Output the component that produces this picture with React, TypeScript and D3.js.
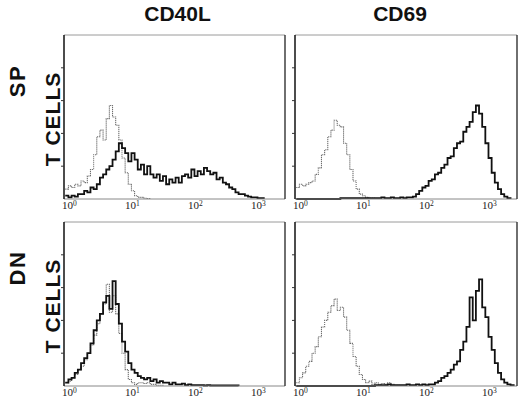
import React from "react";
import * as d3 from "d3";

const width = 520;
const height = 397;

// channel positions in decades (log10 of fluorescence), one per bin
const channels = d3.range(71).map((i) => -0.05 + i * 0.05);
const decadeTicks = [0, 1, 2, 3];
const colTitles = ["CD40L", "CD69"];
const rowTitles = [
  ["SP", "T CELLS"],
  ["DN", "T CELLS"],
];

// % of panel height
const spCd40lCtrl = [6, 8, 7, 9, 8, 11, 10, 14, 18, 27, 38, 42, 36, 49, 57, 50, 45, 36, 25, 16, 9, 5, 2, 1, 1, 0.5, 0.3, 0];
const spCd40lStain = [2, 1, 2, 1.5, 3, 3, 5, 4, 7, 6, 9, 13, 15, 18, 20, 24, 29, 34, 31, 28, 23, 28, 24, 18, 21, 15, 20, 15, 13, 15, 11, 14, 9, 12, 10, 13, 10, 14, 15, 13, 18, 14, 17, 15, 19, 17, 15, 16, 12, 13, 10, 9, 7, 6, 4, 3, 3, 2, 1.5, 1, 1, 0.5, 0.5, 0];
const spCd69Ctrl = [7, 9, 8, 9, 10, 11, 15, 19, 27, 30, 38, 42, 48, 45, 44, 34, 27, 18, 11, 6, 3, 2, 1, 0.5, 0.5, 0];
const spCd69Stain = [0, 0, 0, 0, 0, 0, 0, 0, 0, 0, 0, 0, 0, 0, 0.5, 0.5, 0.5, 0.5, 0.5, 0.5, 0.5, 0.5, 0.5, 0.5, 0.5, 0.5, 0.5, 1, 0.5, 0.5, 1, 0.5, 0.5, 1, 0.5, 1, 1, 1.5, 3, 5, 7, 8, 11, 12, 15, 16, 19, 21, 25, 26, 31, 34, 35, 41, 44, 47, 53, 57, 52, 44, 34, 25, 16, 10, 6, 3, 1.5, 0.5, 0];
const dnCd40lCtrl = [2, 3, 5, 7, 10, 12, 16, 20, 25, 31, 38, 44, 50, 62, 45, 55, 44, 32, 20, 10, 4, 2, 1, 2, 2, 1.5, 2, 1, 1, 0.5, 0.5, 0];
const dnCd40lStain = [2, 4, 5, 8, 10, 14, 17, 20, 26, 34, 40, 44, 51, 55, 47, 64, 50, 38, 27, 21, 14, 10, 8, 6, 5, 4, 5, 3, 4, 2, 3, 2, 2, 1, 2, 1, 1, 1.5, 0.5, 1, 0.5, 0.5, 0.5, 0.5, 0.3, 0.5, 0.3, 0.3, 0.3, 0.3, 0.3, 0.3, 0.3, 0.3, 0.3, 0];
const dnCd69Ctrl = [2, 5, 8, 12, 15, 20, 24, 30, 36, 40, 45, 49, 53, 46, 48, 42, 34, 26, 18, 12, 7, 4, 2, 3, 1, 2, 1, 1.5, 1, 2, 1, 0.5, 0.5, 0];
const dnCd69Stain = [0, 0, 0, 0, 0, 0, 0, 0, 0, 0, 0, 0, 0, 0, 0, 0, 0, 0, 0, 0, 0, 0, 0, 0, 0, 0.5, 0.5, 0.5, 0.5, 1, 0.5, 0.5, 0.5, 0.5, 0.5, 1, 0.5, 0.5, 1, 0.5, 1, 0.5, 1, 1, 2, 3, 5, 6, 8, 10, 13, 15, 22, 27, 36, 54, 40, 58, 65, 48, 42, 30, 22, 14, 8, 4, 2, 1, 0.5, 0];

const panels = [
  { row: 0, col: 0, ctrl: spCd40lCtrl, stain: spCd40lStain },
  { row: 0, col: 1, ctrl: spCd69Ctrl, stain: spCd69Stain },
  { row: 1, col: 0, ctrl: dnCd40lCtrl, stain: dnCd40lStain },
  { row: 1, col: 1, ctrl: dnCd69Ctrl, stain: dnCd69Stain },
];

const colX = [
  [64, 285],
  [295, 517],
];
const rowY = [
  [35, 199],
  [222, 386],
];

const Panel = ({ row, col, ctrl, stain }) => {
  const [x0, x1] = colX[col];
  const [y0, y1] = rowY[row];
  const x = d3
    .scaleLog()
    .domain([Math.pow(10, -0.07), Math.pow(10, (x1 - x0 - 4.5) / 63)])
    .range([x0, x1]);
  const y = d3.scaleLinear().domain([0, 100]).range([y1, y0]);
  const line = d3
    .line<number>()
    .x((d, i) => x(Math.pow(10, channels[i])))
    .y((d) => y(d))
    .curve(d3.curveStepAfter);
  const yTicks = y.ticks(5).filter((t) => t > 0 && t < 100);

  return (
    <g>
      <path d={line(ctrl) ?? ""} fill="none" stroke="#6e6e6e" strokeWidth={1.1} strokeDasharray="1.2 0.8" />
      <path d={line(stain) ?? ""} fill="none" stroke="#111" strokeWidth={1.8} strokeLinejoin="miter" />
      <line x1={x0} x2={x1} y1={y0} y2={y0} stroke="#9a9a9a" strokeWidth={1} />
      <line x1={x0} x2={x1} y1={y1} y2={y1} stroke="#888" strokeWidth={1} />
      <line x1={x0} x2={x0} y1={y0} y2={y1} stroke="#111" strokeWidth={1.5} />
      <line x1={x1} x2={x1} y1={y0} y2={y1} stroke="#333" strokeWidth={1.4} />
      {yTicks.map((t) => (
        <line key={t} x1={x0 - 3} x2={x0} y1={y(t)} y2={y(t)} stroke="#333" strokeWidth={1} />
      ))}
      {decadeTicks.map((d) => (
        <text
          key={d}
          x={x(Math.pow(10, d)) + 1}
          y={y1 + 10}
          textAnchor="middle"
          fontFamily="'Liberation Serif', 'DejaVu Serif', serif"
          fontSize={11}
          fill="#222"
        >
          10
          <tspan dy={-3.5} fontSize={7.5}>
            {d}
          </tspan>
        </text>
      ))}
    </g>
  );
};

export default function App() {
  const bold = "'Liberation Sans', Arial, Helvetica, sans-serif";
  return (
    <div style={{ position: "absolute", left: 0, top: 0 }}>
      <svg width={width} height={height} viewBox={`0 0 ${width} ${height}`} style={{ display: "block", background: "#fff" }}>
        {colTitles.map((t, i) => (
          <text
            key={t}
            x={(colX[i][0] + colX[i][1]) / 2 + (i === 0 ? 3 : -6)}
            y={21}
            textAnchor="middle"
            fontFamily={bold}
            fontWeight="bold"
            fontSize={21}
            fill="#111"
          >
            {t}
          </text>
        ))}
        {rowTitles.map(([a, b], r) => {
          const cy = (rowY[r][0] + rowY[r][1]) / 2;
          return (
            <g key={r}>
              <text
                transform={`translate(25,${cy - 36}) rotate(-90)`}
                textAnchor="middle"
                fontFamily={bold}
                fontWeight="bold"
                fontSize={22}
                letterSpacing={1.5}
                fill="#111"
              >
                {a}
              </text>
              <text
                transform={`translate(60,${cy + 2}) rotate(-90)`}
                textAnchor="middle"
                fontFamily={bold}
                fontWeight="bold"
                fontSize={21}
                letterSpacing={1}
                fill="#111"
              >
                {b}
              </text>
            </g>
          );
        })}
        {panels.map((p) => (
          <Panel key={`${p.row}-${p.col}`} {...p} />
        ))}
      </svg>
    </div>
  );
}
